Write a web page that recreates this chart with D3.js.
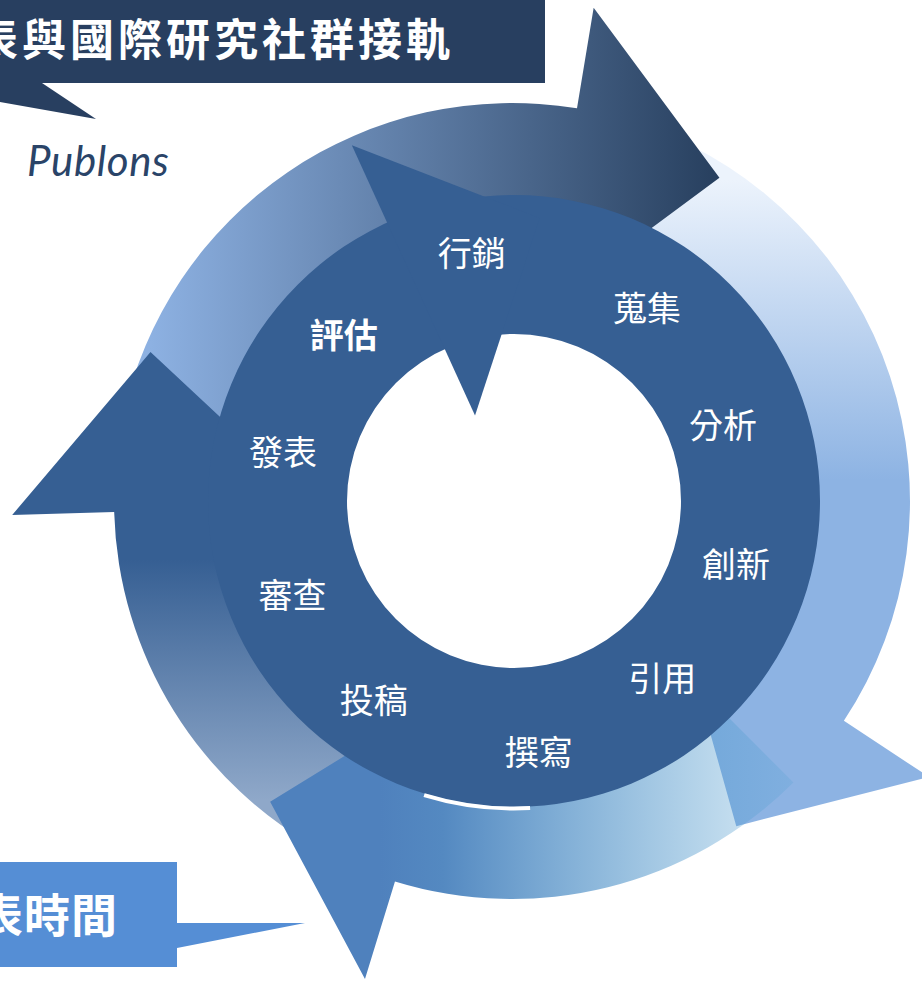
<!DOCTYPE html>
<html lang="zh-Hant">
<head>
<meta charset="UTF-8">
<title>研究循環</title>
<style>
  body { margin: 0; background: #fff; }
  svg { display: block; }
  .stage { font-family: "Noto Sans CJK TC", sans-serif; fill: #fff; font-size: 34px; }
  .callout { font-family: "Noto Sans CJK TC", sans-serif; fill: #fff; font-weight: bold; }
</style>
</head>
<body>
<svg id="chart" width="922" height="981"></svg>
<script src="https://cdn.jsdelivr.net/npm/d3@7"></script>
<script>
// stages of the cycle, clockwise from the top (angle in degrees from 12 o'clock)
const stages = ['行銷', '蒐集', '分析', '創新', '引用', '撰寫', '投稿', '審查', '發表', '評估'];
const stageAngle = [-9.9, 34.5, 70.2, 106.1, 140.4, 174.6, 215.2, 246.9, 281.7, 314];
const stageRadius = [251, 233, 221, 230, 231, 253, 245, 242, 237, 238];

// outer arrows, listed in drawing order
const arrowNames = ['right', 'top', 'left', 'bottom'];
const arrowTail = [20, 282, 208, 135];
const arrowHeadBase = [123.5, 9.4, 268.4, 197.1];
const arrowTip = [145.4, 32.7, 292.4, 218.8];
const arrowTipRadius = [395, 384, 391, 386];

const calloutTop = '表與國際研究社群接軌';
const calloutBottom = '表時間';
const sourceNote = 'Publons';

const rad = d => d * Math.PI / 180;
const svg = d3.select('#chart');
const defs = svg.append('defs');

function linear(id, x1, y1, x2, y2, stops) {
    let g = defs.append('linearGradient')
        .attr('id', id)
        .attr('gradientUnits', 'userSpaceOnUse')
        .attr('x1', x1).attr('y1', y1).attr('x2', x2).attr('y2', y2);
    g.selectAll('stop').data(stops).join('stop')
        .attr('offset', d => d[0])
        .attr('stop-color', d => d[1])
        .attr('stop-opacity', d => d[2] === undefined ? 1 : d[2]);
}

// gradients are in page coordinates, the arrow group is translated
const cx = 512, cy = 501;
linear('grad-right', 0, 180 - cy, 0, 480 - cy, [[0, '#ecf3fc'], [1, '#8db3e3']]);
linear('grad-top', 150 - cx, 0, 720 - cx, 0, [[0, '#8db1e2'], [1, '#273f5e']]);
linear('grad-left', 0, 560 - cy, 0, 800 - cy, [[0, '#365f93'], [1, '#8fa8c9']]);
linear('grad-bottom', 380 - cx, 0, 800 - cx, 0, [[0, '#4f81bd', 1], [0.15, '#5489c1', 1], [1, '#50a0d2', 0.2]]);

// outer ring of arrows, body and head as one outline
const outerR = 398, innerR = 290, headOuter = 500, headInner = 196;
const arrows = svg.append('g').attr('transform', `translate(${cx},${cy})`);

function arrowPath(i) {
    let start = arrowTail[i];
    let base = arrowHeadBase[i];
    if (base < start) base += 360;
    let tip = arrowTip[i];
    if (tip < base) tip += 360;
    // d3.path angles start at 3 o'clock
    let a = d => rad(d - 90);
    let p = d3.path();
    p.arc(0, 0, outerR, a(start), a(base));
    [[base, headOuter], [tip, arrowTipRadius[i]], [base, headInner], [base, innerR]].forEach(([t, r]) => {
        let pt = d3.pointRadial(rad(t), r);
        p.lineTo(pt[0], pt[1]);
    });
    p.arc(0, 0, innerR, a(base), a(start), true);
    p.closePath();
    return p.toString();
}

arrows.selectAll('path')
    .data(arrowNames)
    .join('path')
    .attr('fill', d => `url(#grad-${d})`)
    .attr('d', (d, i) => arrowPath(i));

// inner dark ring with its own arrow head
const ring = svg.append('g').attr('transform', 'translate(514,501)').attr('fill', '#365f93');
ring.append('path').attr('d', d3.arc()
    .innerRadius(167).outerRadius(306)
    .startAngle(0).endAngle(2 * Math.PI)());
ring.append('path').attr('d', d3.line()([
    d3.pointRadial(rad(-24.5), 391),
    d3.pointRadial(rad(5.2), 284),
    d3.pointRadial(rad(-24.5), 94)
]) + 'Z');

// thin white gap between the ring and the bottom arrow
ring.append('path')
    .attr('fill', '#fff')
    .attr('d', d3.arc()
        .innerRadius(305.5).outerRadius(309.5)
        .startAngle(rad(177)).endAngle(rad(197))());

// stage labels
const labels = svg.append('g').attr('transform', 'translate(515,500)');
labels.selectAll('text')
    .data(stages)
    .join('text')
    .attr('class', 'stage')
    .attr('text-anchor', 'middle')
    .attr('font-weight', d => d === '評估' ? 600 : 400)
    .attr('x', (d, i) => d3.pointRadial(rad(stageAngle[i]), stageRadius[i])[0])
    .attr('y', (d, i) => d3.pointRadial(rad(stageAngle[i]), stageRadius[i])[1])
    .attr('dy', '0.38em')
    .text(d => d);

// top callout
svg.append('path')
    .attr('d', 'M0,0H545V83H42L96,119L0,102Z')
    .attr('fill', '#283f60');
svg.append('text')
    .attr('class', 'callout')
    .attr('x', -26).attr('y', 56)
    .attr('font-size', 44)
    .attr('letter-spacing', 4)
    .text(calloutTop);

svg.append('text')
    .attr('x', 27).attr('y', 176)
    .attr('font-family', 'Lato, sans-serif')
    .attr('font-style', 'italic')
    .attr('font-size', 42)
    .attr('letter-spacing', 0.6)
    .attr('fill', '#2a4468')
    .text(sourceNote);

// bottom callout
svg.append('path')
    .attr('d', 'M0,862H177V923L305,923L177,948V967H0Z')
    .attr('fill', '#558ed5');
svg.append('text')
    .attr('class', 'callout')
    .attr('x', -23).attr('y', 932)
    .attr('font-size', 46)
    .attr('letter-spacing', 1)
    .text(calloutBottom);
</script>
</body>
</html>
